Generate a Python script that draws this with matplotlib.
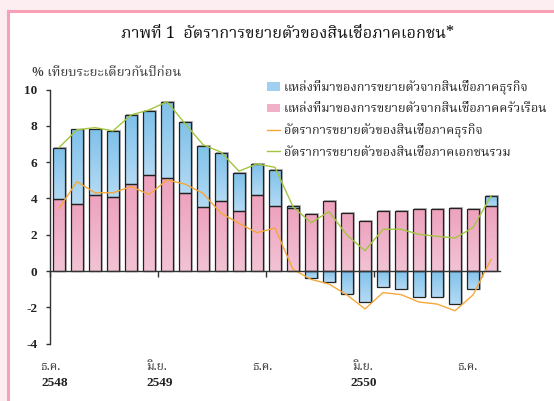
import matplotlib
matplotlib.use("Agg")
import matplotlib.pyplot as plt
import numpy as np
from matplotlib import font_manager
from matplotlib.patches import Rectangle
from matplotlib.lines import Line2D
from matplotlib.patches import Patch

# ---------------- data ----------------
months = list(range(25))  # Dec 2548 .. Dec 2550
household = [3.97, 3.67, 4.20, 4.10, 4.79, 5.31, 5.12, 4.30, 3.50, 3.87, 3.31, 4.19, 3.57,
             3.49, 3.12, 3.87, 3.21, 2.77, 3.31, 3.31, 3.40, 3.40, 3.49, 3.40, 3.58]
business = [2.79, 4.13, 3.60, 3.60, 3.81, 3.49, 4.19, 3.93, 3.40, 2.65, 2.09, 1.69, 2.01,
            0.09, -0.40, -0.62, -1.25, -1.73, -0.90, -1.01, -1.43, -1.43, -1.82, -1.01, 0.55]
business_growth = [3.45, 4.92, 4.31, 4.31, 4.65, 4.22, 5.01, 4.79, 4.28, 3.18, 2.63, 2.11, 2.37,
                   0.09, -0.46, -0.72, -1.32, -2.09, -1.19, -1.30, -1.71, -1.82, -2.19, -1.32, 0.64]
total_growth = [6.80, 7.78, 7.90, 7.72, 8.60, 8.87, 9.33, 8.13, 6.96, 6.55, 5.50, 5.90, 5.71,
                3.54, 2.66, 3.27, 1.98, 1.12, 2.30, 2.30, 2.02, 1.91, 1.82, 2.39, 4.13]
tick_pos = [-0.5, 5.5, 11.5, 17.5, 23.5]
tick_month = ["ธ.ค.", "มิ.ย.", "ธ.ค.", "มิ.ย.", "ธ.ค."]
tick_year = ["2548", "2549", "", "2550", ""]
legend_labels = ["แหล่งที่มาของการขยายตัวจากสินเชื่อภาคธุรกิจ",
                 "แหล่งที่มาของการขยายตัวจากสินเชื่อภาคครัวเรือน",
                 "อัตราการขยายตัวของสินเชื่อภาคธุรกิจ",
                 "อัตราการขยายตัวของสินเชื่อภาคเอกชนรวม"]
title = "ภาพที่ 1  อัตราการขยายตัวของสินเชื่อภาคเอกชน*"
ylabel = "% เทียบระยะเดียวกันปีก่อน"

# ---------------- fonts ----------------
def find_thai_fonts():
    found = {}
    try:
        from fontTools.ttLib import TTFont
    except Exception:
        return found
    for f in font_manager.fontManager.ttflist:
        if f.name in found:
            continue
        try:
            tt = TTFont(f.fname, fontNumber=0, lazy=True)
            cmap = tt.getBestCmap()
            if cmap and 0x0E01 in cmap and 0x0E40 in cmap:
                found[f.name] = f.fname
        except Exception:
            pass
    return found

thai = find_thai_fonts()
pref = ["Norasi", "Kinnari", "Noto Serif Thai", "TH Sarabun New", "Garuda", "Loma",
        "Noto Sans Thai", "Noto Sans Thai Looped", "Tlwg Typo", "Umpush", "Waree", "Sawasdee"]
thai_family = None
for p in pref:
    if p in thai:
        thai_family = p
        break
if thai_family is None and thai:
    thai_family = sorted(thai.keys())[0]
num_fam = ["Liberation Serif", "DejaVu Sans"]
thai_fam = ([thai_family] if thai_family else []) + ["Liberation Serif", "DejaVu Sans"]
plt.rcParams['font.family'] = num_fam

# ---------------- figure ----------------
fig = plt.figure(figsize=(5.54, 4.01), dpi=100)
fig.patch.set_facecolor("white")
W, H = 554.0, 401.0
# decorative frame
fig.patches.append(Rectangle((0, 1 - 10 / H), 1, 10 / H, transform=fig.transFigure,
                             facecolor="#fdeef2", edgecolor="none", zorder=0))
fig.patches.append(Rectangle((0, 0), 7 / W, 1, transform=fig.transFigure,
                             facecolor="#fdeef2", edgecolor="none", zorder=0))
fig.lines.append(Line2D([7.5 / W, 1], [1 - 11 / H, 1 - 11 / H], transform=fig.transFigure,
                        color="#f7a0b6", lw=2.2, zorder=1))
fig.lines.append(Line2D([7.5 / W, 7.5 / W], [0, 1 - 11 / H], transform=fig.transFigure,
                        color="#f7a0b6", lw=2.2, zorder=1))

ax = fig.add_axes([50 / W, 1 - 343.6 / H, 450 / W, 254.1 / H])
ax.set_xlim(-0.5, 24.5)
ax.set_ylim(-4, 10)

bw = 0.68
grad = np.linspace(0, 1, 64).reshape(-1, 1)

def gbar(x, y0, y1, ctop, cbot, z=3):
    lo, hi = min(y0, y1), max(y0, y1)
    if hi - lo <= 0:
        return
    rect = Rectangle((x - bw / 2, lo), bw, hi - lo, facecolor="none", edgecolor="none")
    ax.add_patch(rect)
    c1 = np.array(matplotlib.colors.to_rgb(ctop))
    c2 = np.array(matplotlib.colors.to_rgb(cbot))
    img = c1[None, None, :] * (1 - grad[:, :, None]) + c2[None, None, :] * grad[:, :, None]
    im = ax.imshow(img, extent=[x - bw / 2, x + bw / 2, lo, hi], origin="upper",
                   aspect="auto", zorder=z, interpolation="bilinear")
    im.set_clip_path(rect)

for i in months:
    h = household[i]
    b = business[i]
    top = h + max(b, 0)
    bot = min(b, 0)
    # shadow
    ax.add_patch(Rectangle((i - bw / 2 + 0.06, bot - 0.03), bw + 0.05, top - bot + 0.08,
                           facecolor="#999999", edgecolor="none", alpha=0.7, zorder=2))
    gbar(i, 0, h, "#eea2bd", "#f2c3d5")
    if b > 0:
        gbar(i, h, h + b, "#7fc1ea", "#b4daf4")
    elif b < 0:
        gbar(i, 0, b, "#7fc1ea", "#b4daf4")
    # outlines
    ax.add_patch(Rectangle((i - bw / 2, 0), bw, h, facecolor="none",
                           edgecolor="#222222", lw=0.9, zorder=4))
    if b != 0:
        y0 = h if b > 0 else 0
        ax.add_patch(Rectangle((i - bw / 2, y0), bw, b, facecolor="none",
                               edgecolor="#222222", lw=0.9, zorder=4))

ax.set_xlim(-0.5, 24.5)
ax.set_ylim(-4, 10)
ax.plot(months, business_growth, color="#f5a83a", lw=1.0, zorder=5)
ax.plot(months, total_growth, color="#a3c63f", lw=1.0, zorder=5)

# axes styling
for s in ["top", "right"]:
    ax.spines[s].set_visible(False)
ax.spines["bottom"].set_position(("data", 0))
ax.spines["bottom"].set_color("#333333")
ax.spines["left"].set_color("#333333")
ax.spines["bottom"].set_linewidth(1.0)
ax.spines["left"].set_linewidth(1.0)
ax.spines["bottom"].set_zorder(6)
ax.set_xticks(tick_pos)
ax.set_xticklabels([""] * len(tick_pos))
ax.tick_params(axis="x", direction="out", length=4, width=1, color="#333333")
ax.set_yticks([-4, -2, 0, 2, 4, 6, 8, 10])
ax.set_yticklabels(["-4", "-2", "0", "2", "4", "6", "8", "10"])
ax.tick_params(axis="y", direction="out", length=3, width=1, color="#333333", pad=6)
for lab in ax.get_yticklabels():
    lab.set_fontweight("bold")
    lab.set_fontsize(9.5)
    lab.set_color("#222222")

# x labels below the plot
month_px = [50, 157, 262, 363, 467]
year_px = [55, 160, None, 364, None]
for m, yv, mx, yx in zip(tick_month, tick_year, month_px, year_px):
    fig.text(mx / W, 1 - 367 / H, m, ha="center", va="center", fontsize=8.5,
             fontweight="bold", color="#333333", family=thai_fam)
    if yv:
        fig.text(yx / W, 1 - 383 / H, yv, ha="center", va="center", fontsize=9.5,
                 fontweight="bold", color="#222222")

fig.text(288 / W, 1 - 33 / H, title, ha="center", va="center", fontsize=11.7,
         color="#111111", family=thai_fam)
fig.text(32 / W, 1 - 72 / H, ylabel, ha="left", va="center", fontsize=9.5,
         fontweight="bold", color="#333333", family=thai_fam)

handles = [Patch(facecolor="#9fd0f0", edgecolor="none"),
           Patch(facecolor="#f0b0c8", edgecolor="none"),
           Line2D([], [], color="#f5a83a", lw=1.0),
           Line2D([], [], color="#a3c63f", lw=1.0)]
leg = fig.legend(handles, legend_labels, loc="upper left",
                 bbox_to_anchor=(267 / W, 1 - 80 / H), frameon=False,
                 handlelength=1.0, handleheight=0.7, handletextpad=0.35,
                 labelspacing=0.62, borderaxespad=0, borderpad=0,
                 prop={"size": 9.1, "weight": "bold", "family": thai_fam})
for t in leg.get_texts():
    t.set_color("#222222")

fig.savefig("out.png", dpi=100, facecolor="white")
